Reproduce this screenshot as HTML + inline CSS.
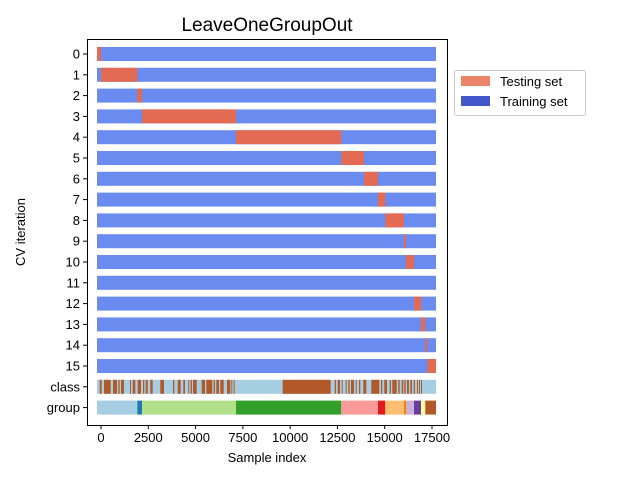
<!DOCTYPE html>
<html><head><meta charset="utf-8"><style>
body{margin:0;background:#fff;}
svg{font-family:"Liberation Sans","DejaVu Sans",sans-serif;}
</style></head><body>
<svg id="chart" width="640" height="480" viewBox="0 0 640 480" xmlns="http://www.w3.org/2000/svg">
<rect width="640" height="480" fill="#fff"/>
<text x="267" y="31" font-size="19" text-anchor="middle">LeaveOneGroupOut</text>
<g id="marks"></g>
<rect x="87.5" y="39.5" width="360" height="386" fill="none" stroke="#000" stroke-width="1"/>
<g id="axes"></g>
<text x="267" y="462" font-size="13" text-anchor="middle">Sample index</text>
<text x="25" y="232" font-size="13" text-anchor="middle" transform="rotate(-90 25 232)">CV iteration</text>
<g>
<rect x="454.5" y="70.5" width="131" height="45" rx="2" fill="#fff" stroke="#ccc"/>
<rect x="461" y="76" width="29" height="10" fill="#ec8469"/>
<text x="500" y="86" font-size="13">Testing set</text>
<rect x="461" y="96" width="29" height="10" fill="#4456cc"/>
<text x="500" y="106" font-size="13">Training set</text>
</g>
</svg>
<script>
// group boundaries in sample index (group k spans groupBounds[k]..groupBounds[k+1])
const groupBounds = [-211,0,1919,2168,7138,12705,13905,14645,15031,16020,16126,16549,16549,16919,17146,17252,17712];
const groupRowBounds = [-211,1919,2168,7138,12705,14645,15031,16020,16126,16549,16919,17146,17712];
const groupRowColors = ['#a6cee3','#1f78b4','#b2df8a','#33a02c','#fb9a99','#e31a1c','#fdbf6f','#ff7f00','#cab2d6','#6a3d9a','#ffff99','#b15928'];
const classStarts = [-69,159,634,915,1057,1533,1676,1940,2221,2363,2606,3135,3807,4055,4351,4616,4742,4864,5324,5567,5958,6096,6307,6662,6889,7016,9606,12356,12514,12726,12937,13075,13218,13466,13640,13868,14291,14804,14978,15264,15401,15718,15898,16036,16179,16353,16533,16707,16813,16919];
const classEnds = [37,513,846,989,1216,1586,1813,2115,2289,2469,2733,3331,3875,4214,4441,4668,4811,5060,5498,5884,6027,6239,6487,6836,6942,7069,12144,12424,12636,12779,12990,13149,13376,13519,13709,14027,14714,14872,15121,15332,15634,15792,15983,16110,16279,16443,16601,16760,16866,16972];
const xTicks = [0,2500,5000,7500,10000,12500,15000,17500];
const yLabels = ['0','1','2','3','4','5','6','7','8','9','10','11','12','13','14','15','class','group'];
const xMin = -211, xMax = 17712;

const NS='http://www.w3.org/2000/svg';
const X = v => 101 + v*0.018914;
const Y = i => 54 + i*20.8;
const BH = 14;
const marks=document.getElementById('marks'), axes=document.getElementById('axes');
function rect(p,x0,x1,row,fill){
  const r=document.createElementNS(NS,'rect');
  r.setAttribute('x',X(x0));r.setAttribute('width',Math.max(0,X(x1)-X(x0)));
  r.setAttribute('y',Y(row)-BH/2);r.setAttribute('height',BH);r.setAttribute('fill',fill);
  p.appendChild(r);return r;
}
const nIter = groupBounds.length-1;
for(let k=0;k<nIter;k++){
  const tr=rect(marks,xMin,xMax,k,'#6a8bef');
  
  
  if(groupBounds[k+1]>groupBounds[k]){
    const te=rect(marks,groupBounds[k],groupBounds[k+1],k,'#e36b53');
    
    
  }
}
const cb=rect(marks,xMin,xMax,16,'#a6cee3');


for(let i=0;i<classStarts.length;i++){
  const c=rect(marks,classStarts[i],classEnds[i],16,'#b15928');
  
  
}
for(let i=0;i<groupRowColors.length;i++){
  const g=rect(marks,groupRowBounds[i],groupRowBounds[i+1],17,groupRowColors[i]);
  
  
}
xTicks.forEach(t=>{
  const l=document.createElementNS(NS,'line');
  l.setAttribute('x1',X(t));l.setAttribute('x2',X(t));l.setAttribute('y1',425);l.setAttribute('y2',429);l.setAttribute('stroke','#000');
  
  
  axes.appendChild(l);
  const tx=document.createElementNS(NS,'text');
  tx.setAttribute('x',X(t));tx.setAttribute('y',442);tx.setAttribute('font-size','13');tx.setAttribute('text-anchor','middle');
  tx.textContent=t;
  
  
  axes.appendChild(tx);
});
yLabels.forEach((s,i)=>{
  const l=document.createElementNS(NS,'line');
  l.setAttribute('x1',83);l.setAttribute('x2',87);l.setAttribute('y1',Y(i));l.setAttribute('y2',Y(i));l.setAttribute('stroke','#000');
  
  
  axes.appendChild(l);
  const tx=document.createElementNS(NS,'text');
  tx.setAttribute('x',80);tx.setAttribute('y',Y(i)+4.5);tx.setAttribute('font-size','13');tx.setAttribute('text-anchor','end');
  tx.textContent=s;
  
  
  axes.appendChild(tx);
});
</script>
</body></html>
